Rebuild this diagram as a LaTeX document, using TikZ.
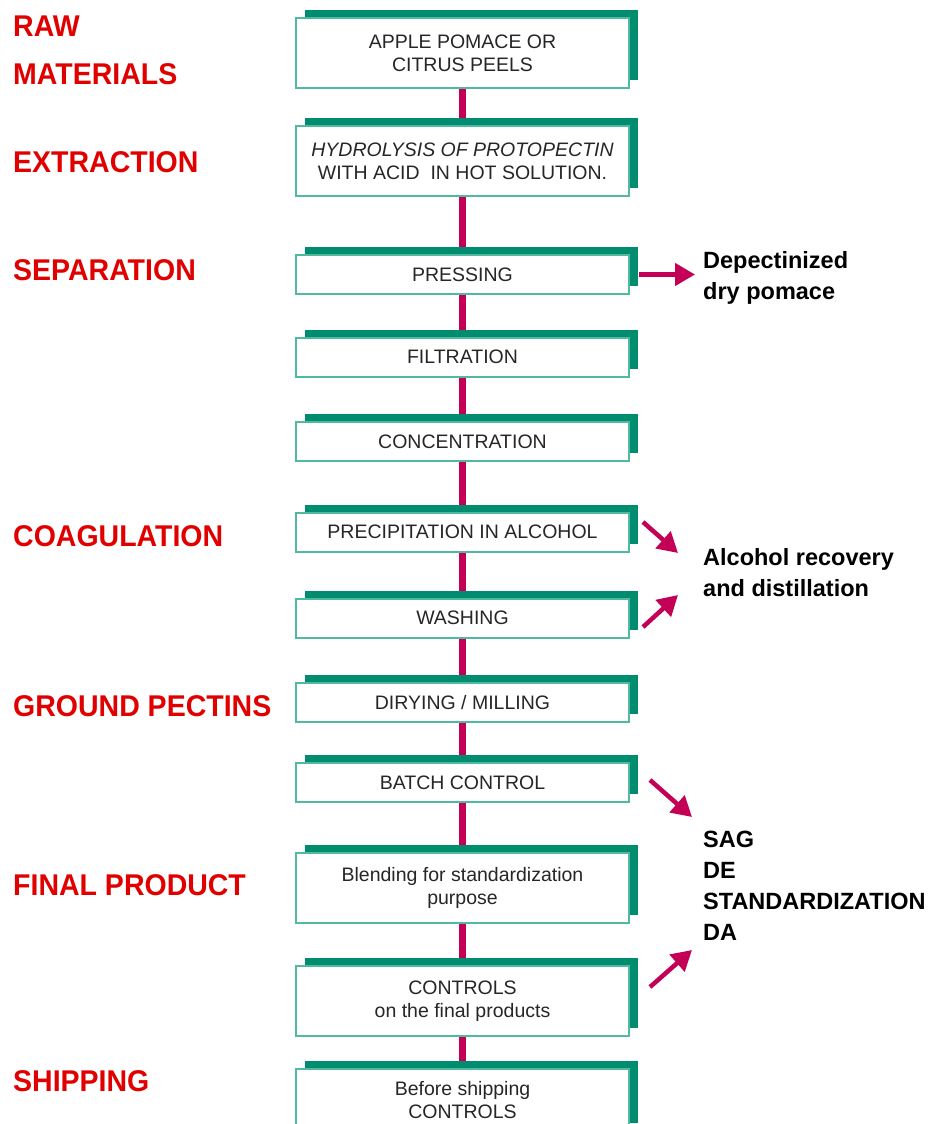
\documentclass[tikz,border=0pt]{standalone}
\usepackage{fontspec}
\setmainfont{Liberation Sans}
\newfontfamily\stagefont[FakeStretch=0.95]{Liberation Sans}
\usetikzlibrary{positioning,shadows,calc,arrows.meta,backgrounds}
\definecolor{pecteal}{RGB}{0,140,110}
\definecolor{pectline}{RGB}{80,185,160}
\definecolor{pectmag}{RGB}{195,0,85}
\definecolor{stagered}{RGB}{225,0,0}

\begin{document}
\begin{tikzpicture}[x=1pt,y=1pt,node distance=90pt,on grid,
  stepbox/.style={draw=pectline,line width=2pt,fill=white,minimum width=333pt,
    minimum height=39pt,align=center,inner sep=0pt,text=black!85,
    font=\fontsize{19.5}{23}\selectfont,
    general shadow={fill=pecteal,shadow xshift=9pt,shadow yshift=8pt}},
  tallbox/.style={stepbox,minimum height=70pt},
  stage/.style={anchor=west,inner sep=0pt,text=stagered,align=left,
    font=\stagefont\bfseries\fontsize{30}{48}\selectfont},
  note/.style={anchor=west,inner sep=0pt,align=left,
    font=\bfseries\fontsize{23.5}{31}\selectfont},
  flow/.style={pectmag,line width=7pt},
  sidearrow/.style={-{Triangle[length=20pt,width=22pt]},pectmag,line width=4.5pt}]
  \useasboundingbox (0,0) rectangle (941,-1124);
  \clip (0,0) rectangle (941,-1124);

  \node[tallbox] (pomace) at (462.5,-53) {APPLE POMACE OR\\CITRUS PEELS};
  \node[tallbox] (hydro) [below=108pt of pomace] {\textit{HYDROLYSIS OF PROTOPECTIN}\\WITH ACID\ \ IN HOT SOLUTION.};
  \node[stepbox] (press) [below=113.5pt of hydro] {PRESSING};
  \node[stepbox] (filter) [below=82.5pt of press] {FILTRATION};
  \node[stepbox] (conc) [below=84.5pt of filter] {CONCENTRATION};
  \node[stepbox] (precip) [below=90.5pt of conc] {PRECIPITATION IN ALCOHOL};
  \node[stepbox] (wash) [below=86pt of precip] {WASHING};
  \node[stepbox] (dry) [below=84.5pt of wash] {DIRYING / MILLING};
  \node[stepbox] (batch) [below=80pt of dry] {BATCH CONTROL};
  \node[tallbox] (blend) [below=105pt of batch] {Blending for standardization\\purpose};
  \node[tallbox] (ctrl) [below=113.5pt of blend] {CONTROLS\\on the final products};
  \node[tallbox,minimum height=62pt] (ship) [below=99pt of ctrl] {Before shipping\\CONTROLS};

  \node[stage] (raw) at (13,-50) {RAW\\MATERIALS};
  \node[stage] (extract) at (13,-162) {EXTRACTION};
  \node[stage] (separ) at (13,-270) {SEPARATION};
  \node[stage] (coag) at (13,-536) {COAGULATION};
  \node[stage] (ground) at (13,-706) {GROUND PECTINS};
  \node[stage] (final) at (13,-885) {FINAL PRODUCT};
  \node[stage] (shipping) at (13,-1081) {SHIPPING};

  \node[note] (pomout) at (703,-278) {Depectinized\\dry pomace};
  \node[note] (alcohol) at (703,-573) {Alcohol recovery\\and distillation};
  \node[note] (sag) at (703,-886) {SAG\\DE\\STANDARDIZATION\\DA};

  \begin{scope}[on background layer]
    \path[flow] (pomace) edge (hydro);
    \path[flow] (hydro) edge (press);
    \path[flow] (press) edge (filter);
    \path[flow] (filter) edge (conc);
    \path[flow] (conc) edge (precip);
    \path[flow] (precip) edge (wash);
    \path[flow] (wash) edge (dry);
    \path[flow] (dry) edge (batch);
    \path[flow] (batch) edge (blend);
    \path[flow] (blend) edge (ctrl);
    \path[flow] (ctrl) edge (ship);
  \end{scope}

  \draw[sidearrow] ([xshift=9pt]press.east) -- ([xshift=-8pt]press.east -| pomout.west);
  \draw[sidearrow] ($(precip.east)+(13,10)$) -- ($(alcohol.west)+(-25,20)$);
  \draw[sidearrow] ($(wash.east)+(13,-9)$) -- ($(alcohol.west)+(-25,-22)$);
  \draw[sidearrow] ($(batch.east)+(20,2.5)$) -- ($(sag.west)+(-11,69)$);
  \draw[sidearrow] ($(ctrl.east)+(20,14)$) -- ($(sag.west)+(-11,-64)$);
\end{tikzpicture}
\end{document}
